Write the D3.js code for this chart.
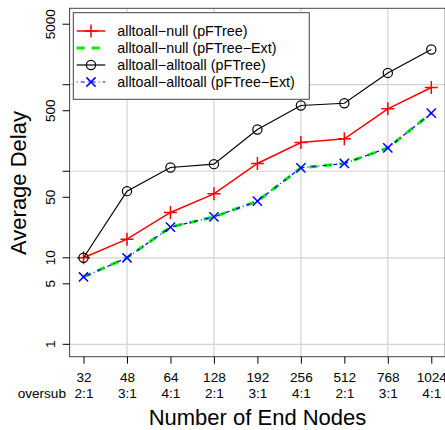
<!DOCTYPE html>
<html lang="en">
<head>
<meta charset="UTF-8">
<title>Average Delay</title>
<script src="https://d3js.org/d3.v7.min.js"></script>
<style>
    body { margin: 0; background: #fff; }
    svg { display: block; font-family: "Liberation Sans", Arial, sans-serif; }
</style>
</head>
<body>
<svg id="chart" width="445" height="430"></svg>
<script>
// data
var nodes = ["32", "48", "64", "128", "192", "256", "512", "768", "1024"];
var oversub = ["2:1", "3:1", "4:1", "2:1", "3:1", "4:1", "2:1", "3:1", "4:1"];
var nullTree = [10, 16.4, 33.4, 54.8, 123, 215, 237, 526, 929];
var nullExt = [6.0, 10, 22.6, 29.7, 45.1, 109.5, 123, 186, 469];
var allTree = [10, 58.9, 110.6, 120.8, 304, 575, 611, 1368, 2550];
var allExt = [6.0, 10, 22.6, 29.7, 45.1, 109.5, 123, 186, 469];
var yTicks = [1, 5, 10, 50, 100, 500, 1000, 5000];
var yLabels = [1, 5, 10, 50, 500, 5000];
var yGrid = [1, 10, 100, 1000];
var xGrid = [1, 3, 5, 7];

var svg = d3.select("#chart");
var plotLeft = 69.6, plotRight = 445.2, plotTop = 8.3, plotBottom = 356.7;

var x = d3.scaleLinear().domain([-0.32, 8.32]).range([plotLeft, plotRight]);
var y = d3.scaleLog().domain([Math.pow(10, -0.143), Math.pow(10, 3.883)]).range([plotBottom, plotTop]);

// grid
svg.append("g").selectAll("line").data(yGrid).enter().append("line")
   .attr("x1", plotLeft).attr("x2", plotRight)
   .attr("y1", function(d) { return y(d); }).attr("y2", function(d) { return y(d); })
   .attr("stroke", "#d3d3d3").attr("stroke-width", 1.2);
svg.append("g").selectAll("line").data(xGrid).enter().append("line")
   .attr("x1", function(d) { return x(d); }).attr("x2", function(d) { return x(d); })
   .attr("y1", plotTop).attr("y2", plotBottom)
   .attr("stroke", "#d3d3d3").attr("stroke-width", 1.2);

// box
svg.append("rect")
   .attr("x", plotLeft).attr("y", plotTop)
   .attr("width", plotRight - plotLeft).attr("height", plotBottom - plotTop)
   .attr("fill", "none").attr("stroke", "#444").attr("stroke-width", 1);

// y axis
var yAxis = d3.axisLeft(y).tickValues(yTicks).tickSize(7)
    .tickFormat(function(d) { return yLabels.indexOf(d) >= 0 ? d : ""; });
var gy = svg.append("g").attr("transform", "translate(" + plotLeft + ",0)").call(yAxis);
gy.select(".domain").remove();
gy.selectAll(".tick").attr("transform", null);
gy.selectAll(".tick line")
  .attr("stroke", "#000")
  .attr("y1", function(d) { return y(d); }).attr("y2", function(d) { return y(d); });
gy.selectAll(".tick text")
  .attr("font-size", "13.6px").attr("fill", "#000")
  .attr("text-anchor", "middle")
  .attr("transform", function(d) { return "translate(" + (54.5 - plotLeft) + "," + y(d) + ") rotate(-90)"; })
  .attr("x", 0).attr("y", 0).attr("dy", 0);

// x axis
var xAxis = d3.axisBottom(x).tickValues(d3.range(nodes.length)).tickSize(7)
    .tickFormat(function(i) { return nodes[i]; });
var gx = svg.append("g").attr("transform", "translate(0," + plotBottom + ")").call(xAxis);
gx.select(".domain").remove();
gx.selectAll(".tick line").attr("stroke", "#000");
gx.selectAll(".tick text").attr("font-size", "13.6px").attr("fill", "#000").attr("y", 25).attr("dy", 0);
gx.selectAll(".tick").append("text")
  .attr("font-size", "13.6px").attr("fill", "#000")
  .attr("text-anchor", "middle").attr("y", 41.5)
  .text(function(i) { return oversub[i]; });

svg.append("text").attr("x", 66).attr("y", plotBottom + 41.5)
   .attr("text-anchor", "end").attr("font-size", "13.6px").text("oversub");

// axis titles
svg.append("text").attr("x", 257.5).attr("y", 425)
   .attr("text-anchor", "middle").attr("font-size", "22px").text("Number of End Nodes");
svg.append("text").attr("transform", "translate(26,183) rotate(-90)")
   .attr("text-anchor", "middle").attr("font-size", "22px").text("Average Delay");

// series
var series = [
    { name: "alltoall\u2212null (pFTree)", values: nullTree, color: "#ff0000", width: 1.5, dash: null, shape: "plus" },
    { name: "alltoall\u2212null (pFTree\u2212Ext)", values: nullExt, color: "#00ee00", width: 3, dash: "8,7", shape: null },
    { name: "alltoall\u2212alltoall (pFTree)", values: allTree, color: "#000000", width: 1.2, dash: null, shape: "circle" },
    { name: "alltoall\u2212alltoall (pFTree\u2212Ext)", values: allExt, color: "#0000ff", width: 1.2, dash: "1,3,4,3", shape: "cross" }
];

var line = d3.line()
    .x(function(d, i) { return x(i); })
    .y(function(d) { return y(d); });

function drawMarker(g, shape, color) {
    if (shape === "plus") {
        g.append("path").attr("d", "M-6.5,0H6.5M0,-6.5V6.5")
         .attr("stroke", color).attr("stroke-width", 1.5).attr("fill", "none");
    } else if (shape === "circle") {
        g.append("circle").attr("r", 4.6)
         .attr("stroke", color).attr("stroke-width", 1.2).attr("fill", "none");
    } else if (shape === "cross") {
        g.append("path").attr("d", "M-4.6,-4.6L4.6,4.6M-4.6,4.6L4.6,-4.6")
         .attr("stroke", color).attr("stroke-width", 1.5).attr("fill", "none");
    }
}

series.forEach(function(s) {
    svg.append("path").datum(s.values)
       .attr("d", line)
       .attr("fill", "none")
       .attr("stroke", s.color)
       .attr("stroke-width", s.width)
       .attr("stroke-dasharray", s.dash);
    if (s.shape) {
        svg.append("g").selectAll("g").data(s.values).enter().append("g")
           .attr("transform", function(d, i) { return "translate(" + x(i) + "," + y(d) + ")"; })
           .each(function() { drawMarker(d3.select(this), s.shape, s.color); });
    }
});

// legend
var legend = svg.append("g");
legend.append("rect")
      .attr("x", 73.3).attr("y", 12.7).attr("width", 236).attr("height", 86.6)
      .attr("fill", "#fff").attr("stroke", "#444").attr("stroke-width", 1);
series.forEach(function(s, i) {
    var ly = 31 + i * 17;
    legend.append("line")
          .attr("x1", 76.7).attr("x2", 105.3).attr("y1", ly).attr("y2", ly)
          .attr("stroke", s.color).attr("stroke-width", s.width)
          .attr("stroke-dasharray", s.dash);
    if (s.shape) {
        var g = legend.append("g").attr("transform", "translate(91," + ly + ")");
        drawMarker(g, s.shape, s.color);
    }
    legend.append("text").attr("x", 117.3).attr("y", ly + 5)
          .attr("font-size", "14.3px").text(s.name);
});
</script>
</body>
</html>
